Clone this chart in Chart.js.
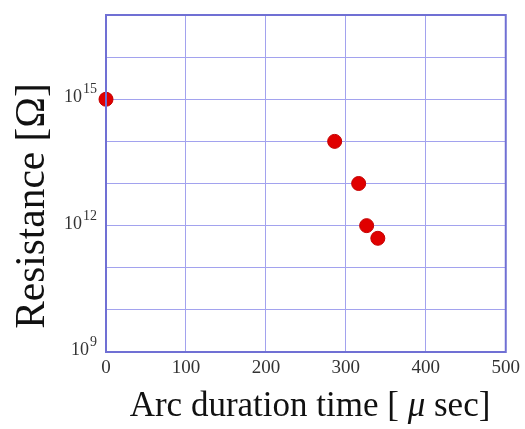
<!DOCTYPE html>
<html>
<head>
<meta charset="utf-8">
<script src="https://cdn.jsdelivr.net/npm/chart.js@4"></script>
<style>
    html, body { margin: 0; padding: 0; background: #ffffff; }
    #wrap { width: 525px; height: 429px; }
</style>
</head>
<body>
<div id="wrap"><canvas id="grafico" width="525" height="429"></canvas></div>
<script>
// Dados
const arcTime = [0, 286, 316, 326, 340];          // µs
const resistance = [1e15, 1e14, 1e13, 1e12, 5e11]; // Ω
const xTicks = [0, 100, 200, 300, 400, 500];
const yDecades = [9, 10, 11, 12, 13, 14, 15, 16, 17];
const yLabelExponents = [9, 12, 15];

const serif = '"Liberation Serif", "DejaVu Serif", serif';
const gridColor = '#a2a2ee';
const frameColor = '#7070d4';

// Rótulos 10^n com expoente sobrescrito
const superscriptLabels = {
    id: 'superscriptLabels',
    afterDraw(chart) {
        const ctx = chart.ctx;
        const y = chart.scales.y;
        ctx.save();
        ctx.fillStyle = '#333333';
        ctx.textBaseline = 'alphabetic';
        ctx.textAlign = 'right';
        yLabelExponents.forEach(e => {
            const py = y.getPixelForValue(Math.pow(10, e));
            const exp = String(e);
            ctx.font = '14px ' + serif;
            const expW = ctx.measureText(exp).width;
            const right = y.right - 9;
            ctx.fillText(exp, right, py - 6);
            ctx.font = '18px ' + serif;
            ctx.fillText('10', right - expW - 1, py + 3);
        });
        ctx.restore();
    }
};

// Títulos dos eixos (µ em itálico)
const axisTitles = {
    id: 'axisTitles',
    afterDraw(chart) {
        const ctx = chart.ctx;
        ctx.save();
        ctx.fillStyle = '#111111';
        ctx.textBaseline = 'alphabetic';
        ctx.textAlign = 'left';

        // eixo x
        const parts = [
            { t: 'Arc duration time [ ', f: '35px ' + serif },
            { t: 'μ', f: 'italic 35px ' + serif },
            { t: ' sec]', f: '35px ' + serif }
        ];
        let total = 0;
        parts.forEach(p => { ctx.font = p.f; p.w = ctx.measureText(p.t).width; total += p.w; });
        let x = 310 - total / 2;
        parts.forEach(p => { ctx.font = p.f; ctx.fillText(p.t, x, 416); x += p.w; });

        // eixo y
        const yText = 'Resistance [Ω]';
        ctx.font = '38px ' + serif;
        const w = ctx.measureText(yText).width;
        const size = 38 * 246 / w;
        ctx.font = size.toFixed(1) + 'px ' + serif;
        ctx.translate(44, 206);
        ctx.rotate(-Math.PI / 2);
        ctx.textAlign = 'center';
        ctx.fillText(yText, 0, 0);
        ctx.restore();
    }
};

const moldura = {
    id: 'moldura',
    afterDraw(chart) {
        const a = chart.chartArea;
        const c = chart.ctx;
        c.save();
        c.strokeStyle = frameColor;
        c.lineWidth = 2;
        c.strokeRect(a.left, a.top, a.right - a.left, a.bottom - a.top);
        c.restore();
    }
};

const ctx = document.getElementById('grafico').getContext('2d');
new Chart(ctx, {
    type: 'scatter',
    data: {
        datasets: [{
            data: arcTime.map((t, i) => ({ x: t, y: resistance[i] })),
            backgroundColor: '#e00000',
            borderColor: '#c40000',
            borderWidth: 1,
            pointRadius: 7,
            pointHoverRadius: 7
        }]
    },
    options: {
        responsive: false,
        animation: false,
        clip: false,
        layout: { padding: { top: 15, right: 19, left: 0, bottom: 0 } },
        plugins: {
            legend: { display: false },
            tooltip: { enabled: false }
        },
        scales: {
            x: {
                type: 'linear',
                min: 0,
                max: 500,
                afterBuildTicks: s => { s.ticks = xTicks.map(v => ({ value: v })); },
                afterFit: s => { s.height = 77; },
                grid: { color: gridColor, lineWidth: 1, drawTicks: false },
                border: { color: frameColor, width: 2 },
                ticks: {
                    color: '#333333',
                    padding: 5,
                    maxRotation: 0,
                    font: { family: serif, size: 19 }
                }
            },
            y: {
                type: 'logarithmic',
                min: 1e9,
                max: 1e17,
                afterBuildTicks: s => { s.ticks = yDecades.map(e => ({ value: Math.pow(10, e) })); },
                afterFit: s => { s.width = 106; },
                grid: { color: gridColor, lineWidth: 1, drawTicks: false },
                border: { color: frameColor, width: 2 },
                ticks: { callback: () => '', padding: 0 }
            }
        }
    },
    plugins: [superscriptLabels, axisTitles, moldura]
});
</script>
</body>
</html>
